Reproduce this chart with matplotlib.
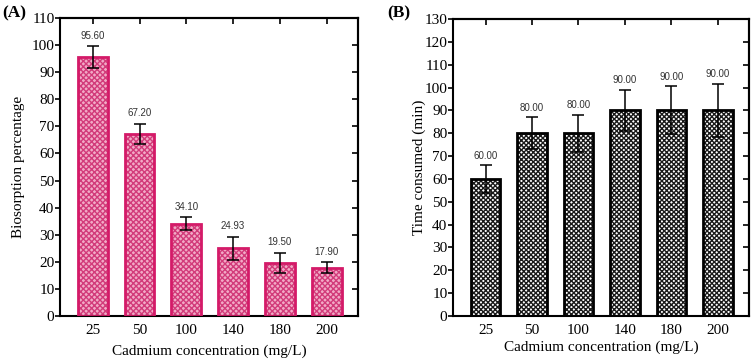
import matplotlib.pyplot as plt
import numpy as np

plt.rcParams['hatch.linewidth'] = 1.0

conc = ['25', '50', '100', '140', '180', '200']
bio = [95.60, 67.20, 34.10, 24.93, 19.50, 17.90]
bio_err = [4.0, 3.8, 2.4, 4.4, 3.8, 2.0]
time = [60.00, 80.00, 80.00, 90.00, 90.00, 90.00]
time_err = [6.0, 7.0, 8.0, 9.0, 10.5, 11.7]

serif = 'Liberation Serif'
sans = 'Liberation Sans'
pink_edge = '#d41a68'

fig = plt.figure(figsize=(7.54, 3.6), dpi=100)
axA = fig.add_axes([60/754, 44/360, 298/754, 298/360])
axB = fig.add_axes([453/754, 44/360, 296/754, 297/360])

x = np.arange(len(conc))
w = 0.64


def style(ax, ymax, ylabel, ylab_x, xlab_y):
    ax.set_xlim(-0.7, 5.67)
    ax.set_ylim(0, ymax)
    ax.set_yticks(np.arange(0, ymax + 1, 10))
    ax.set_xticks(x)
    ax.set_xticklabels(conc, fontfamily=serif, fontsize=11)
    for lab in ax.get_yticklabels():
        lab.set_fontfamily(serif)
        lab.set_fontsize(11)
    ax.tick_params(axis='y', direction='out', length=3.5, width=1.2, pad=0.5)
    ax.tick_params(axis='x', length=0, pad=6)
    # inward ticks on the top/right spines
    secx = ax.secondary_xaxis('top')
    secx.set_xticks(x)
    secx.set_xticklabels([])
    secx.tick_params(direction='in', length=4, width=1.2)
    secy = ax.secondary_yaxis('right')
    secy.set_yticks(np.arange(0, ymax + 1, 10))
    secy.set_yticklabels([])
    secy.tick_params(direction='in', length=4, width=1.2)
    for s in ax.spines.values():
        s.set_linewidth(1.5)
    secx.spines['top'].set_linewidth(1.5)
    secy.spines['right'].set_linewidth(1.5)
    ax.set_xlabel('Cadmium concentration (mg/L)', fontfamily=serif, fontsize=11)
    ax.set_ylabel(ylabel, fontfamily=serif, fontsize=11)
    ax.yaxis.set_label_coords(ylab_x, 0.5)
    ax.xaxis.set_label_coords(0.5, xlab_y)
    ax.xaxis.label.set_va('center')
    ax.yaxis.label.set_va('center')


# panel A
axA.bar(x, bio, w, color='#f2aac6', hatch='xxxxxx', edgecolor='#d23b7a', linewidth=0, zorder=2)
axA.bar(x, bio, w, fill=False, edgecolor=pink_edge, linewidth=2.0, zorder=3)
axA.errorbar(x, bio, yerr=bio_err, fmt='none', ecolor='black', elinewidth=1.1, capsize=4, capthick=1.1, zorder=4)
for xi, v, e in zip(x, bio, bio_err):
    axA.text(xi, v + e + 2, f'{v:.2f}', ha='center', va='bottom', fontfamily=sans, fontsize=7, color='#333333')
style(axA, 110, 'Biosorption percentage', -0.14, -0.117)

# panel B
axB.bar(x, time, w, color='white', hatch='xxxxxxx', edgecolor='#1a1a1a', linewidth=0, zorder=2)
axB.bar(x, time, w, fill=False, edgecolor='black', linewidth=2.0, zorder=3)
axB.errorbar(x, time, yerr=time_err, fmt='none', ecolor='black', elinewidth=1.1, capsize=4, capthick=1.1, zorder=4)
for xi, v, e in zip(x, time, time_err):
    axB.text(xi, v + e + 2, f'{v:.2f}', ha='center', va='bottom', fontfamily=sans, fontsize=7, color='#333333')
style(axB, 130, 'Time consumed (min)', -0.115, -0.104)

fig.text(2/754, 1 - 13/360, '(A)', fontfamily=serif, fontsize=12.5, fontweight='bold', va='center')
fig.text(387/754, 1 - 13/360, '(B)', fontfamily=serif, fontsize=12.5, fontweight='bold', va='center')

fig.savefig('out.png', dpi=100)
